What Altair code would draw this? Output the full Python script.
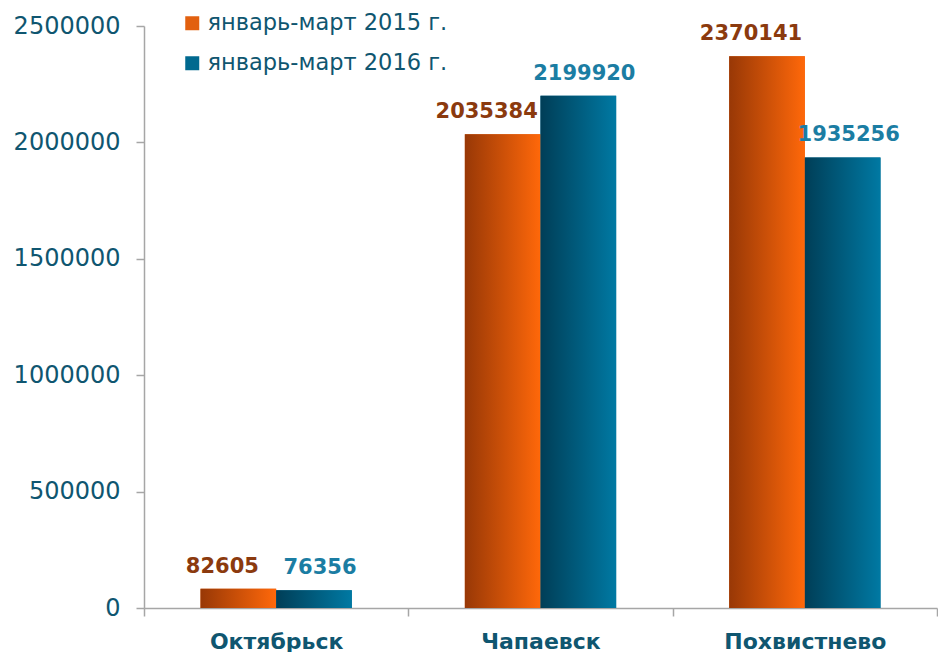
import altair as alt
import pandas as pd

categories = ["Октябрьск", "Чапаевск", "Похвистнево"]
series = ["январь-март 2015 г.", "январь-март 2016 г."]
values_2015 = [82605, 2035384, 2370141]
values_2016 = [76356, 2199920, 1935256]
y_ticks = [0, 500000, 1000000, 1500000, 2000000, 2500000]

rows = []
for c, a, b in zip(categories, values_2015, values_2016):
    rows.append({"city": c, "series": series[0], "value": a})
    rows.append({"city": c, "series": series[1], "value": b})
df = pd.DataFrame(rows)

TXT = "#0f5670"
AX = "#a6a6a6"
grad_orange = {"gradient": "linear", "x1": 0, "x2": 1, "y1": 0, "y2": 0,
               "stops": [{"offset": 0, "color": "#983806"}, {"offset": 1, "color": "#ff680a"}]}
grad_teal = {"gradient": "linear", "x1": 0, "x2": 1, "y1": 0, "y2": 0,
             "stops": [{"offset": 0, "color": "#003e57"}, {"offset": 1, "color": "#0079a3"}]}

x = alt.X("city:N", sort=categories, title=None,
          scale=alt.Scale(paddingInner=0, paddingOuter=0),
          axis=alt.Axis(labelAngle=0, tickBand="extent", labelFont="DejaVu Sans",
                        labelFontSize=22, labelFontWeight="bold", labelColor=TXT,
                        labelPadding=15, tickSize=8, domainColor=AX, tickColor=AX,
                        domainWidth=1.5, tickWidth=1.5))
xo = alt.XOffset("series:N", sort=series,
                 scale=alt.Scale(domain=series, paddingInner=0, paddingOuter=0.747))
y = alt.Y("value:Q", title=None,
          scale=alt.Scale(domain=[0, 2500000], nice=False),
          axis=alt.Axis(values=y_ticks, format="d", grid=False, labelFont="DejaVu Sans",
                        labelFontSize=24, labelColor=TXT, labelPadding=16, tickSize=8,
                        domainColor=AX, tickColor=AX, domainWidth=1.5, tickWidth=1.5))

base = alt.Chart(df)

bars = base.mark_bar().encode(
    x=x, xOffset=xo, y=y,
    color=alt.Color("series:N", sort=series,
                    scale=alt.Scale(domain=series, range=["#e2600f", "#00698f"]),
                    legend=alt.Legend(title=None, orient="none", legendX=37, legendY=-14,
                                      symbolType="square", symbolSize=196,
                                      symbolStrokeWidth=0, labelFont="DejaVu Sans",
                                      labelFontSize=22.5, labelColor=TXT, labelOffset=4,
                                      labelLimit=0, rowPadding=17, padding=0)),
)

g1 = base.transform_filter(alt.datum.series == series[0]).mark_bar(fill=grad_orange).encode(
    x=x, xOffset=xo, y=y)
g2 = base.transform_filter(alt.datum.series == series[1]).mark_bar(fill=grad_teal).encode(
    x=x, xOffset=xo, y=y)

lab1 = base.transform_filter(alt.datum.series == series[0]).mark_text(
    font="DejaVu Sans", fontSize=21, fontWeight="bold", baseline="middle",
    dy=-22, dx=-16, color="#8b3a0e").encode(
    x=x, xOffset=xo, y=y, text=alt.Text("value:Q", format="d"))
lab2 = base.transform_filter(alt.datum.series == series[1]).mark_text(
    font="DejaVu Sans", fontSize=21, fontWeight="bold", baseline="middle",
    dy=-22, dx=6, color="#1b7da3").encode(
    x=x, xOffset=xo, y=y, text=alt.Text("value:Q", format="d"))

chart = alt.layer(bars, g1, g2, lab1, lab2).properties(
    width=793, height=582, background="white",
    padding={"left": 5, "top": 4, "right": 0, "bottom": 0}
).configure_view(stroke=None)

chart.save("out.html", embed_options={"renderer": "svg", "actions": False})
